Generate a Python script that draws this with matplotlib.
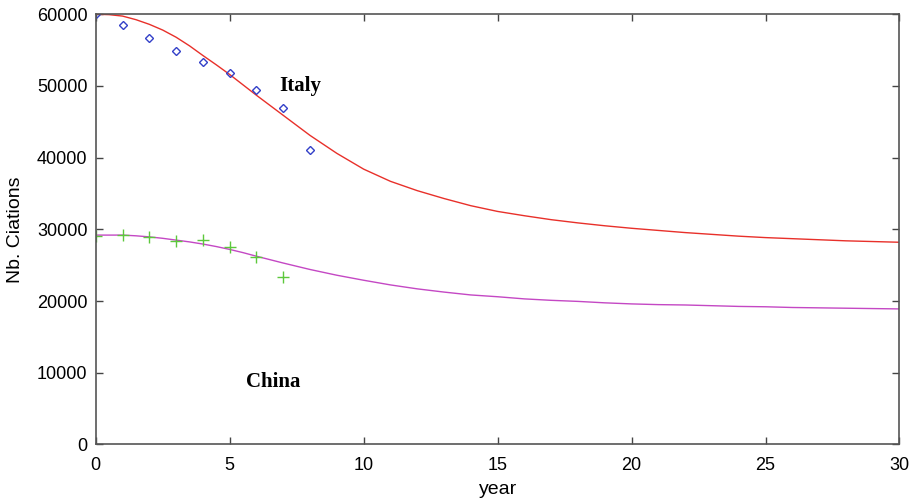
import matplotlib.pyplot as plt

# observed citations per year
italy_years = [0, 1, 2, 3, 4, 5, 6, 7, 8]
italy_obs = [60000, 58570, 56660, 54810, 53320, 51830, 49420, 46870, 41110]
china_years = [0, 1, 2, 3, 4, 5, 6, 7]
china_obs = [29140, 29190, 29000, 28440, 28500, 27560, 26170, 23350]

# fitted curves
fit_years = [0, 0.5, 1, 1.5, 2, 2.5, 3, 3.5, 4, 4.5, 5, 5.5, 6, 7, 8, 9, 10, 11, 12, 13, 14, 15,
             16, 17, 18, 19, 20, 21, 22, 23, 24, 25, 26, 27, 28, 29, 30]
italy_fit = [60000, 59950, 59750, 59250, 58600, 57800, 56800, 55600, 54250, 52950, 51600,
             50150, 48700, 45900, 43100, 40600,
             38400, 36700, 35400, 34300, 33300, 32500, 31900, 31350, 30900, 30500,
             30150, 29850, 29550, 29300, 29050, 28850, 28700, 28550, 28400, 28300, 28200]
china_fit = [29200, 29200, 29200, 29100, 28950, 28750, 28500, 28250, 27950, 27600, 27200,
             26750, 26250, 25300, 24400, 23600,
             22900, 22250, 21700, 21250, 20850, 20600, 20300, 20100, 19950, 19750,
             19600, 19500, 19450, 19350, 19250, 19200, 19100, 19050, 19000, 18950, 18900]

plt.rcParams['font.family'] = ['Liberation Sans', 'DejaVu Sans']

fig = plt.figure(figsize=(9.18, 4.98), dpi=100)
ax = fig.add_axes([0.1043, 0.1076, 0.8755, 0.8637])

ax.plot(fit_years, italy_fit, color='#e8302a', lw=1)
ax.plot(fit_years, china_fit, color='#c448c4', lw=1)
ax.plot(italy_years, italy_obs, 'D', ms=4.2, mfc='none', mec='#3340c8', mew=1)
ax.plot(china_years, china_obs, '+', ms=8, color='#5cc83c', mew=1)

ax.text(7.63, 49970, 'Italy', family='Liberation Serif', weight='bold',
        fontsize=15, ha='center', va='center')
ax.text(6.61, 8770, 'China', family='Liberation Serif', weight='bold',
        fontsize=15, ha='center', va='center')

ax.set_xlim(0, 30)
ax.set_ylim(0, 60000)
ax.set_xticks([0, 5, 10, 15, 20, 25, 30])
ax.set_yticks([0, 10000, 20000, 30000, 40000, 50000, 60000])
ax.set_xlabel('year', fontsize=14, labelpad=5)
ax.set_ylabel('Nb. Ciations', fontsize=14, labelpad=9)
ax.tick_params(direction='in', top=True, right=True, length=5, width=1,
               color='#444444', labelsize=13, pad=9)
ax.tick_params(axis='y', pad=6)
for s in ax.spines.values():
    s.set_color('#555555')
    s.set_linewidth(1.2)

fig.savefig('out.png', dpi=100)
